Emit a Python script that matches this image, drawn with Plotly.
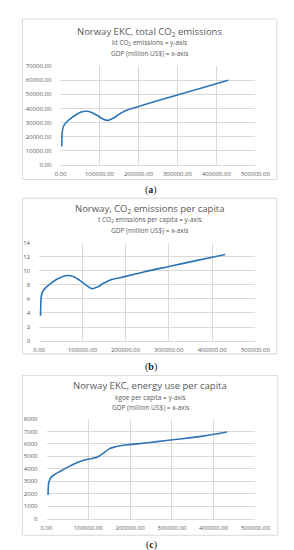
import plotly.graph_objects as go

# Panel (a): total CO2 emissions (kt) vs GDP (million US$)
gdp_a = [3500, 5000, 8000, 14000, 25000, 40000, 55000, 67000, 80000, 95000, 110000, 122000, 135000, 150000, 165000, 190000, 240000, 300000, 360000, 430000]
co2_a = [13000, 24000, 27500, 29800, 32500, 35500, 37600, 38000, 37200, 35000, 32300, 31500, 33000, 35800, 38200, 40500, 44800, 49600, 54300, 60000]

# Panel (b): CO2 emissions per capita (t)
gdp_b = [3500, 5000, 8000, 14000, 25000, 40000, 55000, 67000, 80000, 95000, 110000, 122000, 135000, 150000, 165000, 190000, 240000, 300000, 360000, 430000]
co2_b = [3.6, 6.3, 7.0, 7.5, 8.1, 8.75, 9.2, 9.33, 9.15, 8.6, 7.9, 7.45, 7.7, 8.25, 8.7, 9.05, 9.8, 10.6, 11.4, 12.3]

# Panel (c): energy use per capita (kgoe)
gdp_c = [3700, 5000, 7500, 12000, 20000, 33000, 52000, 74000, 93000, 110000, 122000, 137000, 150000, 160000, 180000, 218000, 265000, 307000, 374000, 432000]
energy_c = [1900, 2800, 3100, 3350, 3550, 3800, 4150, 4500, 4720, 4830, 4950, 5280, 5600, 5720, 5870, 6000, 6180, 6350, 6620, 6950]

x_ticks = [0, 100000, 200000, 300000, 400000, 500000]

titles = [
    ("Norway EKC, total CO<sub>2</sub> emissions", "kt CO<sub>2</sub> emissions = y-axis", "GDP (million US$) = x-axis"),
    ("Norway, CO<sub>2</sub> emissions per capita", "t CO<sub>2</sub> emissions per capita = y-axis", "GDP (million US$) = x-axis"),
    ("Norway EKC, energy use per capita", "kgoe per capita = y-axis", "GDP (million US$) = x-axis"),
]
panel_labels = ["a", "b", "c"]

W, H = 294, 550
def px(v):
    return v / W
def py(v):
    return 1 - v / H

LINE = "#2e75b6"
GRID = "#d9d9d9"
TXT = "#595959"
FONT = "'Open Sans', Lato, sans-serif"

fig = go.Figure()
fig.add_trace(go.Scatter(x=gdp_a, y=co2_a, mode="lines", line=dict(color=LINE, width=1.6, shape="spline", smoothing=0.8), xaxis="x", yaxis="y", showlegend=False))
fig.add_trace(go.Scatter(x=gdp_b, y=co2_b, mode="lines", line=dict(color=LINE, width=1.6, shape="spline", smoothing=0.8), xaxis="x2", yaxis="y2", showlegend=False))
fig.add_trace(go.Scatter(x=gdp_c, y=energy_c, mode="lines", line=dict(color=LINE, width=1.6, shape="spline", smoothing=0.8), xaxis="x3", yaxis="y3", showlegend=False))

# plot areas (pixel coords): left, right, top, bottom
areas = [(50, 260, 55, 155), (27, 260, 234, 334), (35, 260, 413, 514)]
boxes = [(9, 283, 7, 170), (9, 283, 189, 347), (9, 284, 369, 531)]
title_y = [(20, 31, 42), (200, 211, 221.5), (379.5, 391, 401.5)]
label_y = [180.5, 360.5, 541]
yranges = [(0, 70000, 10000, ".2f"), (0, 14, 2, "d"), (0, 8000, 1000, "d")]

layout = dict(width=W, height=H, margin=dict(l=0, r=0, t=0, b=0),
              paper_bgcolor="white", plot_bgcolor="white",
              font=dict(family=FONT, color=TXT), shapes=[], annotations=[])

for i in range(3):
    l, r, t, b = areas[i]
    sfx = "" if i == 0 else str(i + 1)
    layout["xaxis" + sfx] = dict(domain=[px(l), px(r)], range=[0, 500000], tickvals=x_ticks,
                                 tickformat=".2f", showgrid=True, gridcolor=GRID, gridwidth=1,
                                 showline=True, linecolor=GRID, zeroline=False,
                                 tickfont=dict(size=6, color=TXT, family=FONT), ticks="",
                                 ticklabelstandoff=3,
                                 anchor="y" + sfx, fixedrange=True)
    y0, y1, dt, fmt = yranges[i]
    layout["yaxis" + sfx] = dict(domain=[py(b), py(t)], range=[y0, y1], dtick=dt,
                                 tickformat=fmt, showgrid=True, gridcolor=GRID, gridwidth=1,
                                 zeroline=False, showline=False,
                                 tickfont=dict(size=6, color=TXT, family=FONT), ticks="",
                                 ticklabelstandoff=8,
                                 anchor="x" + sfx, fixedrange=True)
    bl, br, bt, bb = boxes[i]
    layout["shapes"].append(dict(type="rect", xref="paper", yref="paper",
                                 x0=px(bl), x1=px(br), y0=py(bb), y1=py(bt),
                                 line=dict(color=GRID, width=1), fillcolor="rgba(0,0,0,0)", layer="below"))
    t1, t2, t3 = titles[i]
    ty = title_y[i]
    cx = px((bl + br) / 2)
    layout["annotations"].append(dict(text=t1, x=cx, y=py(ty[0]), xref="paper", yref="paper",
                                      showarrow=False, font=dict(size=9.5, color=TXT, family=FONT),
                                      xanchor="center", yanchor="middle"))
    layout["annotations"].append(dict(text=t2, x=cx, y=py(ty[1]), xref="paper", yref="paper",
                                      showarrow=False, font=dict(size=6.5, color=TXT, family=FONT),
                                      xanchor="center", yanchor="middle"))
    layout["annotations"].append(dict(text=t3, x=cx, y=py(ty[2]), xref="paper", yref="paper",
                                      showarrow=False, font=dict(size=6.5, color=TXT, family=FONT),
                                      xanchor="center", yanchor="middle"))
    layout["annotations"].append(dict(text="(<b>" + panel_labels[i] + "</b>)", x=0.503, y=py(label_y[i]),
                                      xref="paper", yref="paper", showarrow=False,
                                      font=dict(size=10, color="#222222", family="'Liberation Serif', serif"),
                                      xanchor="center", yanchor="middle"))

fig.update_layout(**layout)
fig.write_html("out.html")
